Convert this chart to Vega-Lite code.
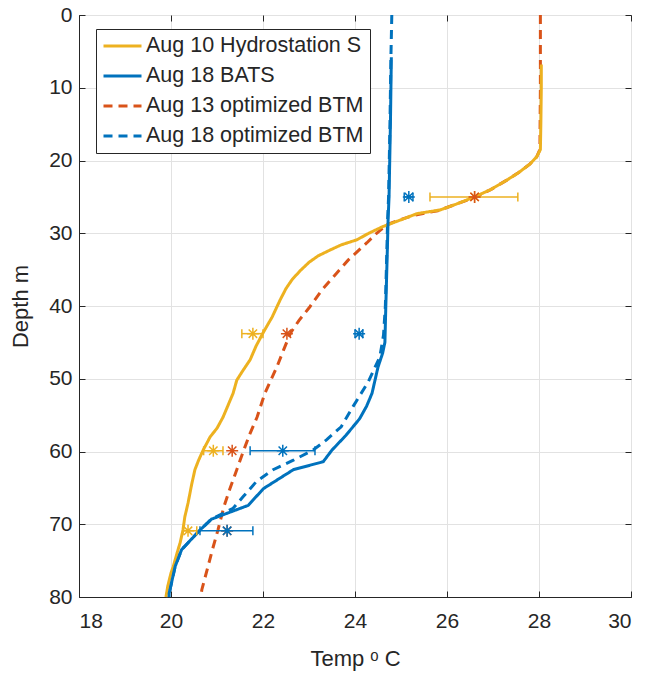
{
  "$schema": "https://vega.github.io/schema/vega-lite/v6.json",
  "width": 552,
  "height": 582,
  "autosize": {"type": "none"},
  "padding": {"left": 79, "top": 15, "right": 14, "bottom": 81},
  "background": "white",
  "config": {
    "font": "Liberation Sans",
    "view": {"stroke": "#262626", "strokeWidth": 1},
    "axis": {
      "labelFont": "Liberation Sans",
      "titleFont": "Liberation Sans",
      "labelColor": "#262626",
      "titleColor": "#262626",
      "labelFontSize": 21,
      "titleFontSize": 22,
      "titleFontWeight": "normal",
      "domainColor": "#262626",
      "tickColor": "#262626",
      "gridColor": "#e2e2e2",
      "gridWidth": 1
    },
    "legend": {
      "labelFont": "Liberation Sans",
      "labelColor": "#262626"
    }
  },
  "datasets": {
    "profiles": [
      {"series": "Aug 13 optimized BTM", "temp": 28.03, "depth": 0},
      {"series": "Aug 13 optimized BTM", "temp": 28.03, "depth": 10},
      {"series": "Aug 13 optimized BTM", "temp": 28.02, "depth": 18.5},
      {"series": "Aug 13 optimized BTM", "temp": 27.95, "depth": 19.5},
      {"series": "Aug 13 optimized BTM", "temp": 27.8, "depth": 20.5},
      {"series": "Aug 13 optimized BTM", "temp": 27.55, "depth": 21.7},
      {"series": "Aug 13 optimized BTM", "temp": 27.3, "depth": 22.7},
      {"series": "Aug 13 optimized BTM", "temp": 26.95, "depth": 24},
      {"series": "Aug 13 optimized BTM", "temp": 26.6, "depth": 25.1},
      {"series": "Aug 13 optimized BTM", "temp": 26.2, "depth": 26},
      {"series": "Aug 13 optimized BTM", "temp": 25.8, "depth": 26.9},
      {"series": "Aug 13 optimized BTM", "temp": 25.3, "depth": 27.5},
      {"series": "Aug 13 optimized BTM", "temp": 24.95, "depth": 28.2},
      {"series": "Aug 13 optimized BTM", "temp": 24.7, "depth": 28.8},
      {"series": "Aug 13 optimized BTM", "temp": 24.47, "depth": 30},
      {"series": "Aug 13 optimized BTM", "temp": 24.26, "depth": 31.3},
      {"series": "Aug 13 optimized BTM", "temp": 23.85, "depth": 33.7},
      {"series": "Aug 13 optimized BTM", "temp": 23.6, "depth": 35.5},
      {"series": "Aug 13 optimized BTM", "temp": 23.28, "depth": 37.8},
      {"series": "Aug 13 optimized BTM", "temp": 23.02, "depth": 40.1},
      {"series": "Aug 13 optimized BTM", "temp": 22.78, "depth": 42},
      {"series": "Aug 13 optimized BTM", "temp": 22.6, "depth": 43.7},
      {"series": "Aug 13 optimized BTM", "temp": 22.45, "depth": 46},
      {"series": "Aug 13 optimized BTM", "temp": 22.3, "depth": 48.4},
      {"series": "Aug 13 optimized BTM", "temp": 22.04, "depth": 52},
      {"series": "Aug 13 optimized BTM", "temp": 21.87, "depth": 55.3},
      {"series": "Aug 13 optimized BTM", "temp": 21.72, "depth": 57.5},
      {"series": "Aug 13 optimized BTM", "temp": 21.6, "depth": 59.5},
      {"series": "Aug 13 optimized BTM", "temp": 21.43, "depth": 62.5},
      {"series": "Aug 13 optimized BTM", "temp": 21.26, "depth": 65.5},
      {"series": "Aug 13 optimized BTM", "temp": 21.15, "depth": 67.6},
      {"series": "Aug 13 optimized BTM", "temp": 21.02, "depth": 70.8},
      {"series": "Aug 13 optimized BTM", "temp": 20.9, "depth": 73.5},
      {"series": "Aug 13 optimized BTM", "temp": 20.8, "depth": 75.9},
      {"series": "Aug 13 optimized BTM", "temp": 20.67, "depth": 79},
      {"series": "Aug 13 optimized BTM", "temp": 20.65, "depth": 80},

      {"series": "Aug 18 optimized BTM", "temp": 24.8, "depth": 0},
      {"series": "Aug 18 optimized BTM", "temp": 24.78, "depth": 6},
      {"series": "Aug 18 optimized BTM", "temp": 24.76, "depth": 15},
      {"series": "Aug 18 optimized BTM", "temp": 24.73, "depth": 25},
      {"series": "Aug 18 optimized BTM", "temp": 24.71, "depth": 28},
      {"series": "Aug 18 optimized BTM", "temp": 24.69, "depth": 33},
      {"series": "Aug 18 optimized BTM", "temp": 24.66, "depth": 40},
      {"series": "Aug 18 optimized BTM", "temp": 24.62, "depth": 44},
      {"series": "Aug 18 optimized BTM", "temp": 24.54, "depth": 47},
      {"series": "Aug 18 optimized BTM", "temp": 24.29, "depth": 50.4},
      {"series": "Aug 18 optimized BTM", "temp": 23.96, "depth": 53.8},
      {"series": "Aug 18 optimized BTM", "temp": 23.7, "depth": 56.6},
      {"series": "Aug 18 optimized BTM", "temp": 23.38, "depth": 58.4},
      {"series": "Aug 18 optimized BTM", "temp": 23.09, "depth": 59.8},
      {"series": "Aug 18 optimized BTM", "temp": 22.66, "depth": 61.2},
      {"series": "Aug 18 optimized BTM", "temp": 22.22, "depth": 62.5},
      {"series": "Aug 18 optimized BTM", "temp": 21.86, "depth": 64.1},
      {"series": "Aug 18 optimized BTM", "temp": 21.57, "depth": 66.2},
      {"series": "Aug 18 optimized BTM", "temp": 21.35, "depth": 67.8},
      {"series": "Aug 18 optimized BTM", "temp": 21.1, "depth": 68.6},
      {"series": "Aug 18 optimized BTM", "temp": 20.88, "depth": 69.3},
      {"series": "Aug 18 optimized BTM", "temp": 20.63, "depth": 70.8},
      {"series": "Aug 18 optimized BTM", "temp": 20.23, "depth": 73.5},
      {"series": "Aug 18 optimized BTM", "temp": 20.09, "depth": 75.8},
      {"series": "Aug 18 optimized BTM", "temp": 19.96, "depth": 79.5},
      {"series": "Aug 18 optimized BTM", "temp": 19.95, "depth": 80},

      {"series": "Aug 10 Hydrostation S", "temp": 28.05, "depth": 6.8},
      {"series": "Aug 10 Hydrostation S", "temp": 28.05, "depth": 10},
      {"series": "Aug 10 Hydrostation S", "temp": 28.04, "depth": 15},
      {"series": "Aug 10 Hydrostation S", "temp": 28.03, "depth": 18.5},
      {"series": "Aug 10 Hydrostation S", "temp": 27.95, "depth": 19.5},
      {"series": "Aug 10 Hydrostation S", "temp": 27.8, "depth": 20.5},
      {"series": "Aug 10 Hydrostation S", "temp": 27.55, "depth": 21.7},
      {"series": "Aug 10 Hydrostation S", "temp": 27.3, "depth": 22.7},
      {"series": "Aug 10 Hydrostation S", "temp": 26.95, "depth": 24},
      {"series": "Aug 10 Hydrostation S", "temp": 26.6, "depth": 25},
      {"series": "Aug 10 Hydrostation S", "temp": 26.2, "depth": 26},
      {"series": "Aug 10 Hydrostation S", "temp": 25.85, "depth": 26.8},
      {"series": "Aug 10 Hydrostation S", "temp": 25.35, "depth": 27.3},
      {"series": "Aug 10 Hydrostation S", "temp": 24.98, "depth": 28.2},
      {"series": "Aug 10 Hydrostation S", "temp": 24.6, "depth": 29.1},
      {"series": "Aug 10 Hydrostation S", "temp": 24.3, "depth": 30},
      {"series": "Aug 10 Hydrostation S", "temp": 24.04, "depth": 30.9},
      {"series": "Aug 10 Hydrostation S", "temp": 23.7, "depth": 31.6},
      {"series": "Aug 10 Hydrostation S", "temp": 23.46, "depth": 32.3},
      {"series": "Aug 10 Hydrostation S", "temp": 23.2, "depth": 33.1},
      {"series": "Aug 10 Hydrostation S", "temp": 23.0, "depth": 34},
      {"series": "Aug 10 Hydrostation S", "temp": 22.8, "depth": 35.2},
      {"series": "Aug 10 Hydrostation S", "temp": 22.63, "depth": 36.4},
      {"series": "Aug 10 Hydrostation S", "temp": 22.5, "depth": 37.6},
      {"series": "Aug 10 Hydrostation S", "temp": 22.37, "depth": 39.2},
      {"series": "Aug 10 Hydrostation S", "temp": 22.2, "depth": 41.5},
      {"series": "Aug 10 Hydrostation S", "temp": 22.0, "depth": 43.7},
      {"series": "Aug 10 Hydrostation S", "temp": 21.85, "depth": 45.5},
      {"series": "Aug 10 Hydrostation S", "temp": 21.72, "depth": 47.4},
      {"series": "Aug 10 Hydrostation S", "temp": 21.55, "depth": 49},
      {"series": "Aug 10 Hydrostation S", "temp": 21.43, "depth": 50.2},
      {"series": "Aug 10 Hydrostation S", "temp": 21.35, "depth": 52},
      {"series": "Aug 10 Hydrostation S", "temp": 21.25, "depth": 53.5},
      {"series": "Aug 10 Hydrostation S", "temp": 21.13, "depth": 55.3},
      {"series": "Aug 10 Hydrostation S", "temp": 21.0, "depth": 56.8},
      {"series": "Aug 10 Hydrostation S", "temp": 20.85, "depth": 58},
      {"series": "Aug 10 Hydrostation S", "temp": 20.7, "depth": 59.8},
      {"series": "Aug 10 Hydrostation S", "temp": 20.6, "depth": 61.2},
      {"series": "Aug 10 Hydrostation S", "temp": 20.52, "depth": 62.5},
      {"series": "Aug 10 Hydrostation S", "temp": 20.45, "depth": 64.5},
      {"series": "Aug 10 Hydrostation S", "temp": 20.37, "depth": 67.1},
      {"series": "Aug 10 Hydrostation S", "temp": 20.3, "depth": 69},
      {"series": "Aug 10 Hydrostation S", "temp": 20.26, "depth": 70.8},
      {"series": "Aug 10 Hydrostation S", "temp": 20.2, "depth": 72.5},
      {"series": "Aug 10 Hydrostation S", "temp": 20.13, "depth": 74},
      {"series": "Aug 10 Hydrostation S", "temp": 20.05, "depth": 75.8},
      {"series": "Aug 10 Hydrostation S", "temp": 20.0, "depth": 76.7},
      {"series": "Aug 10 Hydrostation S", "temp": 19.93, "depth": 78.5},
      {"series": "Aug 10 Hydrostation S", "temp": 19.89, "depth": 80},

      {"series": "Aug 18 BATS", "temp": 24.79, "depth": 5.8},
      {"series": "Aug 18 BATS", "temp": 24.77, "depth": 15},
      {"series": "Aug 18 BATS", "temp": 24.74, "depth": 25},
      {"series": "Aug 18 BATS", "temp": 24.72, "depth": 28},
      {"series": "Aug 18 BATS", "temp": 24.7, "depth": 33},
      {"series": "Aug 18 BATS", "temp": 24.67, "depth": 40},
      {"series": "Aug 18 BATS", "temp": 24.65, "depth": 45},
      {"series": "Aug 18 BATS", "temp": 24.6, "depth": 46.5},
      {"series": "Aug 18 BATS", "temp": 24.5, "depth": 48.4},
      {"series": "Aug 18 BATS", "temp": 24.37, "depth": 52},
      {"series": "Aug 18 BATS", "temp": 24.25, "depth": 53.8},
      {"series": "Aug 18 BATS", "temp": 24.1, "depth": 55.5},
      {"series": "Aug 18 BATS", "temp": 23.8, "depth": 57.8},
      {"series": "Aug 18 BATS", "temp": 23.5, "depth": 59.8},
      {"series": "Aug 18 BATS", "temp": 23.31, "depth": 61.4},
      {"series": "Aug 18 BATS", "temp": 22.66, "depth": 62.5},
      {"series": "Aug 18 BATS", "temp": 22.01, "depth": 65.1},
      {"series": "Aug 18 BATS", "temp": 21.68, "depth": 67.4},
      {"series": "Aug 18 BATS", "temp": 20.88, "depth": 69.3},
      {"series": "Aug 18 BATS", "temp": 20.63, "depth": 70.8},
      {"series": "Aug 18 BATS", "temp": 20.23, "depth": 73.5},
      {"series": "Aug 18 BATS", "temp": 20.09, "depth": 75.8},
      {"series": "Aug 18 BATS", "temp": 19.96, "depth": 79.5},
      {"series": "Aug 18 BATS", "temp": 19.96, "depth": 80}
    ],
    "errs": [
      {"series": "Aug 10 Hydrostation S", "depth": 25, "temp": 26.6, "lo": 25.63, "hi": 27.54},
      {"series": "Aug 10 Hydrostation S", "depth": 43.8, "temp": 21.78, "lo": 21.54, "hi": 22.0},
      {"series": "Aug 10 Hydrostation S", "depth": 59.9, "temp": 20.92, "lo": 20.71, "hi": 21.13},
      {"series": "Aug 10 Hydrostation S", "depth": 70.9, "temp": 20.37, "lo": 20.26, "hi": 20.56},
      {"series": "Aug 13 optimized BTM", "depth": 25, "temp": 26.6, "lo": 26.6, "hi": 26.6},
      {"series": "Aug 13 optimized BTM", "depth": 43.8, "temp": 22.52, "lo": 22.52, "hi": 22.52},
      {"series": "Aug 13 optimized BTM", "depth": 59.9, "temp": 21.33, "lo": 21.33, "hi": 21.33},
      {"series": "Aug 13 optimized BTM", "depth": 70.9, "temp": 21.22, "lo": 21.22, "hi": 21.22},
      {"series": "Aug 18 BATS", "depth": 25, "temp": 25.17, "lo": 25.07, "hi": 25.26},
      {"series": "Aug 18 BATS", "depth": 43.8, "temp": 24.09, "lo": 24.0, "hi": 24.17},
      {"series": "Aug 18 BATS", "depth": 59.9, "temp": 22.43, "lo": 21.72, "hi": 23.13},
      {"series": "Aug 18 BATS", "depth": 70.9, "temp": 21.22, "lo": 20.63, "hi": 21.78}
    ]
  },
  "layer": [
    {
      "data": {"name": "profiles"},
      "transform": [{"filter": "indexof(datum.series, 'optimized') >= 0"}],
      "mark": {"type": "line", "strokeWidth": 3, "strokeCap": "butt"},
      "encoding": {
        "x": {"field": "temp", "type": "quantitative", "axis": null},
        "y": {"field": "depth", "type": "quantitative", "axis": null},
        "order": {"field": "depth", "type": "quantitative"},
        "color": {"field": "series", "type": "nominal"},
        "strokeDash": {"field": "series", "type": "nominal"}
      }
    },
    {
      "data": {"name": "profiles"},
      "transform": [{"filter": "indexof(datum.series, 'optimized') < 0"}],
      "mark": {"type": "line", "strokeWidth": 3},
      "encoding": {
        "x": {
          "field": "temp", "type": "quantitative",
          "scale": {"domain": [18, 30], "nice": false, "zero": false},
          "axis": {
            "orient": "bottom",
            "values": [18, 20, 22, 24, 26, 28, 30],
            "grid": true,
            "tickSize": -6,
            "labelPadding": 19,
            "title": "Temp ᵒ C",
            "titlePadding": 17
          }
        },
        "y": {
          "field": "depth", "type": "quantitative",
          "scale": {"domain": [0, 80], "reverse": true, "nice": false, "zero": false},
          "axis": {
            "orient": "left",
            "values": [0, 10, 20, 30, 40, 50, 60, 70, 80],
            "grid": true,
            "tickSize": -6,
            "labelPadding": 13,
            "title": "Depth m",
            "titlePadding": 16
          }
        },
        "order": {"field": "depth", "type": "quantitative"},
        "color": {
          "field": "series", "type": "nominal",
          "scale": {
            "domain": ["Aug 10 Hydrostation S", "Aug 18 BATS", "Aug 13 optimized BTM", "Aug 18 optimized BTM"],
            "range": ["#EDB120", "#0072BD", "#D95319", "#0072BD"]
          },
          "legend": {
            "title": null,
            "orient": "none",
            "legendX": 17,
            "legendY": 14,
            "symbolType": "M-1,0L3,0",
            "symbolSize": 361,
            "symbolStrokeWidth": 3,
            "labelFontSize": 21.5,
            "labelOffset": 22,
            "labelLimit": 400,
            "rowPadding": 8,
            "padding": 6,
            "strokeColor": "#262626",
            "fillColor": "white"
          }
        },
        "strokeDash": {
          "field": "series", "type": "nominal",
          "scale": {
            "domain": ["Aug 10 Hydrostation S", "Aug 18 BATS", "Aug 13 optimized BTM", "Aug 18 optimized BTM"],
            "range": [[1, 0], [1, 0], [9, 6], [9, 6]]
          },
          "legend": {
            "title": null,
            "orient": "none",
            "legendX": 17,
            "legendY": 14,
            "symbolType": "M-1,0L3,0",
            "symbolSize": 361,
            "symbolStrokeWidth": 3,
            "labelFontSize": 21.5,
            "labelOffset": 22,
            "labelLimit": 400,
            "rowPadding": 8,
            "padding": 6,
            "strokeColor": "#262626",
            "fillColor": "white"
          }
        }
      }
    },
    {
      "data": {"name": "errs"},
      "transform": [{"filter": "datum.series != 'Aug 13 optimized BTM'"}],
      "mark": {"type": "rule", "strokeWidth": 1.5},
      "encoding": {
        "x": {"field": "lo", "type": "quantitative", "axis": null},
        "x2": {"field": "hi"},
        "y": {"field": "depth", "type": "quantitative", "axis": null},
        "stroke": {
          "field": "series", "type": "nominal", "legend": null,
          "scale": {
            "domain": ["Aug 10 Hydrostation S", "Aug 18 BATS", "Aug 13 optimized BTM"],
            "range": ["#EDB120", "#0072BD", "#D95319"]
          }
        }
      }
    },
    {
      "data": {"name": "errs"},
      "transform": [{"filter": "datum.series != 'Aug 13 optimized BTM'"}],
      "mark": {"type": "point", "shape": "M0,-1L0,1", "size": 81, "filled": false, "strokeWidth": 1.5, "opacity": 1},
      "encoding": {
        "x": {"field": "lo", "type": "quantitative", "axis": null},
        "y": {"field": "depth", "type": "quantitative", "axis": null},
        "stroke": {"field": "series", "type": "nominal", "legend": null}
      }
    },
    {
      "data": {"name": "errs"},
      "transform": [{"filter": "datum.series != 'Aug 13 optimized BTM'"}],
      "mark": {"type": "point", "shape": "M0,-1L0,1", "size": 81, "filled": false, "strokeWidth": 1.5, "opacity": 1},
      "encoding": {
        "x": {"field": "hi", "type": "quantitative", "axis": null},
        "y": {"field": "depth", "type": "quantitative", "axis": null},
        "stroke": {"field": "series", "type": "nominal", "legend": null}
      }
    },
    {
      "data": {"name": "errs"},
      "mark": {"type": "point", "shape": "M-1,0L1,0M0,-1L0,1M-0.7,-0.7L0.7,0.7M-0.7,0.7L0.7,-0.7", "size": 144, "filled": false, "strokeWidth": 1.5, "opacity": 1},
      "encoding": {
        "x": {
          "field": "temp", "type": "quantitative",
          "axis": {"orient": "top", "values": [18, 20, 22, 24, 26, 28, 30], "labels": false, "domain": false, "grid": false, "tickSize": -6, "title": null}
        },
        "y": {
          "field": "depth", "type": "quantitative",
          "axis": {"orient": "right", "values": [0, 10, 20, 30, 40, 50, 60, 70, 80], "labels": false, "domain": false, "grid": false, "tickSize": -6, "title": null}
        },
        "stroke": {"field": "series", "type": "nominal", "legend": null}
      }
    }
  ],
  "resolve": {"axis": {"x": "independent", "y": "independent"}}
}
